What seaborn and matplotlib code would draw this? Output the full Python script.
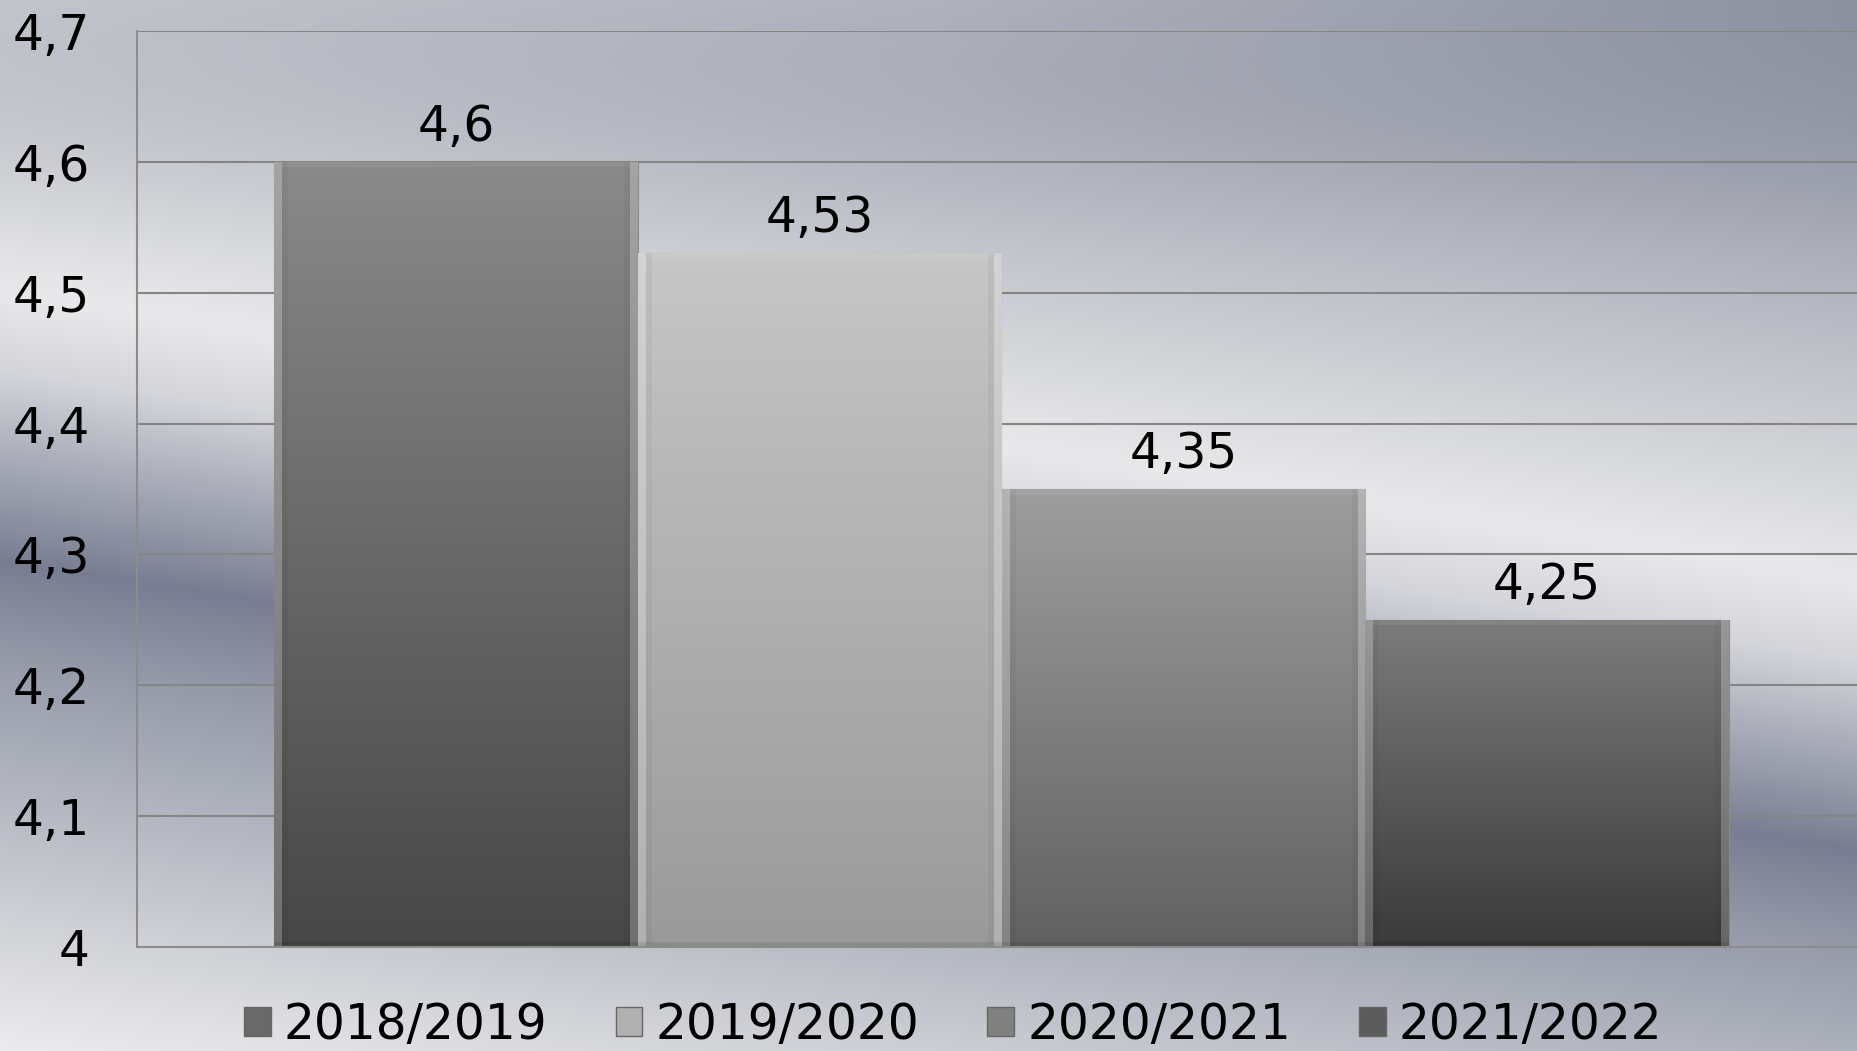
import numpy as np
import pandas as pd
import matplotlib
matplotlib.use("Agg")
import matplotlib.pyplot as plt
from matplotlib.patches import Patch
from matplotlib.colors import to_rgb
from matplotlib.ticker import FuncFormatter, MultipleLocator
import seaborn as sns

seasons = ["2018/2019", "2019/2020", "2020/2021", "2021/2022"]
values = [4.6, 4.53, 4.35, 4.25]
group = ["" for _ in seasons]

# grey of each bar at its top and at its bottom
top_grey = ["#8a8a8a", "#c6c6c6", "#9e9e9e", "#7c7c7c"]
bottom_grey = ["#474747", "#9a9a9a", "#616161", "#3a3a3a"]

df = pd.DataFrame({"group": group, "season": seasons, "value": values})

sns.set_theme(style="white")
plt.rcParams["font.family"] = ["DejaVu Sans"]
plt.rcParams["text.color"] = "black"

fig = plt.figure(figsize=(18.58, 10.51), dpi=100)

# metallic backdrop, diagonal bands falling to the right
bg = fig.add_axes([0, 0, 1, 1], zorder=-10)
H, W = 1051, 1858
yy, xx = np.mgrid[0:H, 0:W]
u = yy - 0.156 * xx
stops = [-290, -100, 0, 150, 290, 370, 450, 560, 660, 760, 950, 1060]
band = np.array([
    (140, 145, 160), (160, 164, 176), (178, 181, 191), (205, 207, 212),
    (233, 233, 235), (212, 213, 218), (172, 175, 187), (120, 126, 146),
    (150, 155, 170), (172, 176, 187), (215, 216, 220), (238, 238, 240),
]) / 255
img = np.dstack([np.interp(u, stops, band[:, k]) for k in range(3)])
# top edge runs left-to-right from light to dark
top_row = np.array([(195, 197, 204), (176, 179, 189), (140, 145, 160)]) / 255
row = np.dstack([np.interp(xx, [0, 929, 1857], top_row[:, k]) for k in range(3)])
wt = np.clip(1 - yy / 260.0, 0, 1)[..., None] ** 1.5
img = img * (1 - wt) + row * wt
bg.imshow(img, aspect="auto", extent=(0, 1, 0, 1), origin="upper")
bg.axis("off")

ax = fig.add_axes([137 / 1858, 104 / 1051, 1729 / 1858, 916 / 1051])
ax.patch.set_alpha(0)

mid = [tuple((np.array(to_rgb(a)) + np.array(to_rgb(b))) / 2)
       for a, b in zip(top_grey, bottom_grey)]
sns.barplot(data=df, x="group", y="value", hue="season", palette=mid,
            width=0.8415, saturation=1, legend=False, ax=ax,
            edgecolor="#8a8a8a", linewidth=0.8)

ymin, ymax = 4.0, 4.7
ax.set_ylim(ymin, ymax)
ax.set_xlim(-0.5, 0.5)

# gradient + soft bevel on every bar
for i, cont in enumerate(ax.containers):
    bar = cont[0]
    x0, w, h = bar.get_x(), bar.get_width(), bar.get_height()
    nx = 364
    ny = max(int(round((h - ymin) / (ymax - ymin) * 916)), 2)
    py, px = np.mgrid[0:ny, 0:nx]
    t = (py / (ny - 1))[..., None]
    ct = np.array(to_rgb(top_grey[i]))
    cb = np.array(to_rgb(bottom_grey[i]))
    shade = ct * (1 - t) + cb * t
    side = (px < 8) | (px >= nx - 8)
    shade[side] = shade[side] + 0.22 * (1 - shade[side])
    topb = (py < 6) & ~side
    shade[topb] = shade[topb] + 0.06 * (1 - shade[topb])
    inner = ((px >= 8) & (px < 14)) | ((px >= nx - 14) & (px < nx - 8))
    shade[inner] = shade[inner] * 0.96
    shade[py >= ny - 5] = shade[py >= ny - 5] * 0.9
    im = ax.imshow(np.clip(shade, 0, 1), extent=(x0, x0 + w, ymin, h),
                   aspect="auto", origin="upper", zorder=bar.get_zorder() + 0.1,
                   interpolation="bilinear")
    im.set_clip_path(bar)
    ax.bar_label(cont, labels=[f"{values[i]}".replace(".", ",")],
                 padding=8, fontsize=35, color="black")

ax.set_ylim(ymin, ymax)
ax.set_xlim(-0.5, 0.5)

ax.yaxis.set_major_locator(MultipleLocator(0.1))
ax.yaxis.set_major_formatter(FuncFormatter(
    lambda v, p: f"{int(round(v))}" if abs(v - round(v)) < 1e-9
    else f"{v:.1f}".replace(".", ",")))
ax.yaxis.grid(True, color="#858585", linewidth=1.5)
ax.set_axisbelow(True)
ax.tick_params(axis="y", length=0, pad=34, labelsize=35, labelcolor="black")
ax.set_xticks([])
ax.set_xlabel("")
ax.set_ylabel("")
for s in ["top", "right"]:
    ax.spines[s].set_visible(False)
for s in ["left", "bottom"]:
    ax.spines[s].set_color("#8c8c8c")
    ax.spines[s].set_linewidth(1.5)

handles = [Patch(facecolor=mid[i], edgecolor="#666666") for i in range(len(seasons))]
fig.legend(handles, seasons, loc="center", bbox_to_anchor=(0.513, 0.0247),
           ncol=4, frameon=False, fontsize=35, handlelength=0.55,
           handleheight=0.55, handletextpad=0.27, columnspacing=1.4,
           labelcolor="black")

fig.savefig("out.png", dpi=100)
